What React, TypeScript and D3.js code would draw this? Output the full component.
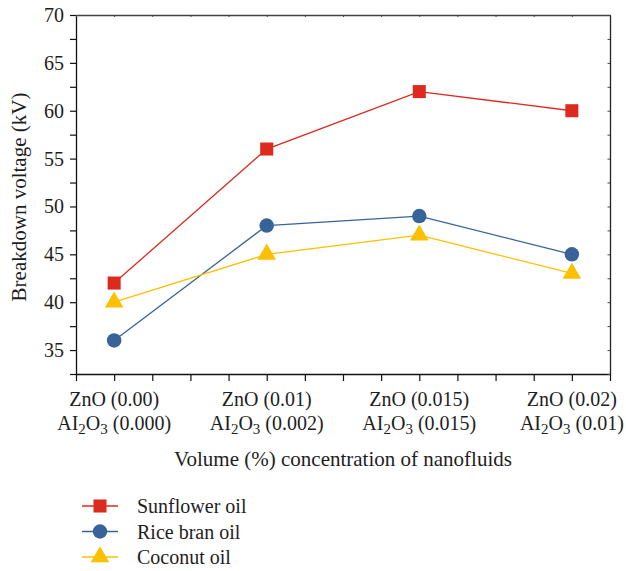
import React, { useRef, useEffect } from 'react';
import * as d3 from 'd3';

const zno = ['0.00', '0.01', '0.015', '0.02'];
const al2o3 = ['0.000', '0.002', '0.015', '0.01'];
const sunflower = [42, 56, 62, 60];
const riceBran = [36, 48, 49, 45];
const coconut = [40, 45, 47, 43];
const yTicks = [35, 40, 45, 50, 55, 60, 65, 70];

const series = [
  { name: 'Sunflower oil', values: sunflower, color: '#dc2a1e', symbol: d3.symbolSquare, size: 170 },
  { name: 'Rice bran oil', values: riceBran, color: '#386399', symbol: d3.symbolCircle, size: 165 },
  { name: 'Coconut oil', values: coconut, color: '#fcc000', symbol: d3.symbolTriangle, size: 150 },
];

const FONT = '"Liberation Serif", "DejaVu Serif", serif';
const TXT = '#1e1e1e';

const App = () => {
  const svgRef = useRef(null);
  const width = 626;
  const height = 571;
  const margin = { left: 76, right: 16, top: 15, bottom: 197 };

  useEffect(() => {
    const svg = d3.select(svgRef.current);
    svg.selectAll('*').remove();

    const x = d3.scaleLinear().domain([-0.25, 3.25]).range([margin.left, width - margin.right]);
    const y = d3.scaleLinear().domain([32.5, 70]).range([height - margin.bottom, margin.top]);
    const x0 = x.range()[0], x1 = x.range()[1];
    const y0 = y.range()[0], y1 = y.range()[1];

    const minorX = d3.range(-0.25, 3.26, 0.25);
    const minorY = d3.range(32.5, 70.01, 2.5);

    // bottom axis, ticks outward
    const bottom = svg.append('g')
      .attr('transform', `translate(0,${y0})`)
      .call(d3.axisBottom(x).tickValues(minorX).tickSize(7).tickSizeOuter(0).tickFormat(() => ''));
    bottom.select('.domain').attr('stroke', '#111').attr('stroke-width', 1.3);
    bottom.selectAll('line').attr('stroke', '#111').attr('stroke-width', 1.2);

    // left axis
    const left = svg.append('g')
      .attr('transform', `translate(${x0},0)`)
      .call(d3.axisLeft(y).tickValues(minorY).tickSize(6).tickSizeOuter(0).tickFormat(() => ''));
    left.select('.domain').attr('stroke', '#111').attr('stroke-width', 1.3);
    left.selectAll('line').attr('stroke', '#111').attr('stroke-width', 1.2);

    // top + right, tiny inward ticks
    const top = svg.append('g')
      .attr('transform', `translate(0,${y1})`)
      .call(d3.axisBottom(x).tickValues(minorX).tickSize(2).tickSizeOuter(0).tickFormat(() => ''));
    top.select('.domain').attr('stroke', '#444').attr('stroke-width', 1.3);
    top.selectAll('line').attr('stroke', '#444');

    const right = svg.append('g')
      .attr('transform', `translate(${x1},0)`)
      .call(d3.axisLeft(y).tickValues(minorY).tickSize(-2).tickSizeOuter(0).tickFormat(() => ''));
    right.selectAll('line').attr('stroke', '#444').attr('x2', -2.5);
    right.select('.domain').attr('stroke', '#222').attr('stroke-width', 1.3);

    // y tick labels
    svg.append('g')
      .selectAll('text')
      .data(yTicks)
      .enter()
      .append('text')
      .attr('x', x0 - 12)
      .attr('y', (d) => y(d))
      .attr('dy', '0.35em')
      .attr('text-anchor', 'end')
      .attr('font-family', FONT)
      .attr('font-size', 20)
      .attr('fill', TXT)
      .text((d) => d);

    // x tick labels (two lines)
    const xl = svg.append('g')
      .selectAll('g')
      .data(zno)
      .enter()
      .append('g')
      .attr('transform', (d, i) => `translate(${x(i)},0)`)
      .attr('font-family', FONT)
      .attr('font-size', 20)
      .attr('fill', TXT)
      .attr('text-anchor', 'middle');
    xl.append('text').attr('y', 406).text((d) => `ZnO (${d})`);
    const l2 = xl.append('text').attr('y', 430);
    l2.append('tspan').text('AI');
    l2.append('tspan').attr('font-size', 15).attr('dy', 4).text('2');
    l2.append('tspan').attr('dy', -4).text('O');
    l2.append('tspan').attr('font-size', 15).attr('dy', 4).text('3');
    l2.append('tspan').attr('dy', -4).text((d, i) => ` (${al2o3[i]})`);

    // axis titles
    svg.append('text')
      .attr('x', (x0 + x1) / 2)
      .attr('y', 466)
      .attr('text-anchor', 'middle')
      .attr('font-family', FONT)
      .attr('font-size', 21)
      .attr('fill', TXT)
      .text('Volume (%) concentration of nanofluids');

    svg.append('text')
      .attr('transform', `translate(26,197) rotate(-90)`)
      .attr('text-anchor', 'middle')
      .attr('font-family', FONT)
      .attr('font-size', 21)
      .attr('fill', TXT)
      .text('Breakdown voltage (kV)');

    // lines + markers
    const line = d3.line<number>()
      .x((d, i) => x(i))
      .y((d) => y(d));

    const g = svg.append('g');
    series.forEach((s) => {
      g.append('path')
        .attr('fill', 'none')
        .attr('stroke', s.color)
        .attr('stroke-width', 1.3)
        .attr('d', line(s.values));
    });
    series.forEach((s) => {
      g.selectAll(null)
        .data(s.values)
        .enter()
        .append('path')
        .attr('transform', (d, i) => `translate(${x(i)},${y(d)})`)
        .attr('d', d3.symbol().type(s.symbol).size(s.size)())
        .attr('fill', s.color);
    });

    // legend
    const legend = svg.append('g')
      .selectAll('g')
      .data(series)
      .enter()
      .append('g')
      .attr('transform', (d, i) => `translate(0,${506 + i * 25.5})`);
    legend.append('line')
      .attr('x1', 82).attr('x2', 118)
      .attr('stroke', (d) => d.color)
      .attr('stroke-width', 1.3);
    legend.append('path')
      .attr('transform', 'translate(100,0)')
      .attr('d', (d) => d3.symbol().type(d.symbol).size(d.size)())
      .attr('fill', (d) => d.color);
    legend.append('text')
      .attr('x', 137)
      .attr('dy', '0.35em')
      .attr('font-family', FONT)
      .attr('font-size', 20)
      .attr('fill', TXT)
      .text((d) => d.name);
  }, []);

  return (
    <svg
      ref={svgRef}
      width={width}
      height={height}
      style={{ position: 'absolute', left: 0, top: 0, display: 'block' }}
    />
  );
};

export default App;
